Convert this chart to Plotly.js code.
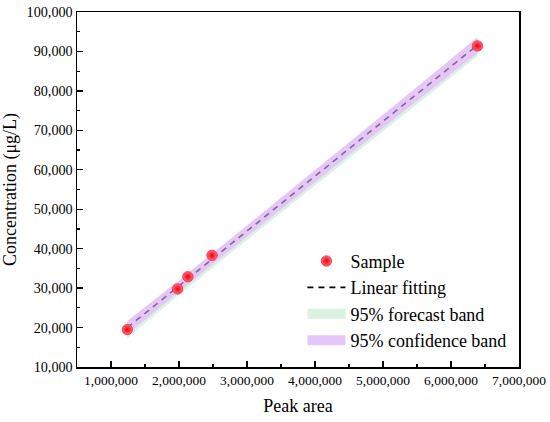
<!DOCTYPE html>
<html>
<head>
<meta charset="utf-8">
<script src="https://cdn.plot.ly/plotly-3.0.1.min.js"></script>
<style>html,body{margin:0;padding:0;background:#fff;}#chart{width:550px;height:422px;}</style>
</head>
<body>
<div id="chart"></div>
<script>
// Sample points
const sampleArea = [1240000, 1980000, 2130000, 2485000, 6390000];
const sampleConc = [19500, 29800, 32900, 38300, 91400];

// Linear fit and bands
const fitArea = [1240000, 2000000, 3000000, 4000000, 5000000, 6000000, 6390000];
const fitConc = [19978, 30550, 44460, 58370, 72280, 86190, 91615];
const confUpper = [21678, 32000, 45860, 59820, 73930, 88090, 93615];
const confLower = [18278, 29100, 43060, 56920, 70630, 84290, 89615];
const forecastUpper = [20978, 31550, 45460, 59370, 73280, 87190, 92615];
const forecastLower = [17378, 28250, 42210, 56070, 69780, 83440, 88765];

const xTickVals = [1000000, 2000000, 3000000, 4000000, 5000000, 6000000, 7000000];
const xTickText = ['1,000,000','2,000,000','3,000,000','4,000,000','5,000,000','6,000,000','7,000,000'];
const yTickVals = [10000, 20000, 30000, 40000, 50000, 60000, 70000, 80000, 90000, 100000];
const yTickText = ['10,000','20,000','30,000','40,000','50,000','60,000','70,000','80,000','90,000','100,000'];

const serif = 'Liberation Serif';
const greenFill = '#d9f2e1';
const purpleFill = '#e6c6f7';

const traces = [
  {x: fitArea, y: forecastLower, mode: 'lines', line: {width: 0, color: greenFill}, showlegend: false, hoverinfo: 'skip'},
  {x: fitArea, y: forecastUpper, mode: 'lines', fill: 'tonexty', fillcolor: greenFill, line: {width: 0, color: greenFill}, showlegend: false},
  {x: fitArea, y: confLower, mode: 'lines', line: {width: 0, color: purpleFill}, showlegend: false, hoverinfo: 'skip'},
  {x: fitArea, y: confUpper, mode: 'lines', fill: 'tonexty', fillcolor: purpleFill, line: {width: 0, color: purpleFill}, showlegend: false},
  {x: fitArea, y: fitConc, mode: 'lines', line: {color: '#7a6a98', width: 1.6, dash: '6px,5px'}, showlegend: false},
  {x: sampleArea, y: sampleConc, mode: 'markers', name: 'Sample', legendrank: 1,
   marker: {size: 10.5, color: '#ff6a88', gradient: {type: 'radial', color: '#ee0000'}, line: {color: '#e81010', width: 0.6}}},
  {x: [null], y: [null], mode: 'lines', line: {color: '#000', width: 1.6, dash: '6px,5px'}, name: 'Linear fitting', legendrank: 2},
  {x: [null], y: [null], mode: 'lines', line: {color: greenFill, width: 18}, name: '95% forecast band', legendrank: 3},
  {x: [null], y: [null], mode: 'lines', line: {color: purpleFill, width: 18}, name: '95% confidence band', legendrank: 4}
];

const layout = {
  width: 550, height: 422,
  margin: {l: 77, r: 31, t: 12, b: 55},
  paper_bgcolor: '#fff', plot_bgcolor: '#fff',
  font: {family: serif, color: '#000', size: 14},
  xaxis: {
    range: [500000, 7000000], tickvals: xTickVals, ticktext: xTickText,
    ticks: 'inside', ticklen: 6, tickwidth: 1.3, tickcolor: '#000',
    minor: {dtick: 500000, ticks: 'inside', ticklen: 3, tickwidth: 1.3, tickcolor: '#000'},
    showline: true, linecolor: '#000', linewidth: 1.5, mirror: true,
    showgrid: false, zeroline: false,
    tickfont: {family: serif, size: 13.5},
    title: {text: 'Peak area', font: {family: serif, size: 18}, standoff: 12}
  },
  yaxis: {
    range: [10000, 100000], tickvals: yTickVals, ticktext: yTickText,
    ticks: 'inside', ticklen: 6, tickwidth: 1.3, tickcolor: '#000',
    minor: {dtick: 5000, ticks: 'inside', ticklen: 3, tickwidth: 1.3, tickcolor: '#000'},
    showline: true, linecolor: '#000', linewidth: 1.5, mirror: true,
    showgrid: false, zeroline: false,
    tickfont: {family: serif, size: 14.2},
    title: {text: 'Concentration (μg/L)', font: {family: serif, size: 18}, standoff: 6}
  },
  legend: {
    x: 0.51, y: 0.35, xanchor: 'left', yanchor: 'top', traceorder: 'normal',
    bgcolor: 'rgba(0,0,0,0)', borderwidth: 0,
    font: {family: serif, size: 18}, itemwidth: 38, tracegroupgap: 0
  },
  showlegend: true
};

Plotly.newPlot('chart', traces, layout, {displayModeBar: false, staticPlot: true});
</script>
</body>
</html>
